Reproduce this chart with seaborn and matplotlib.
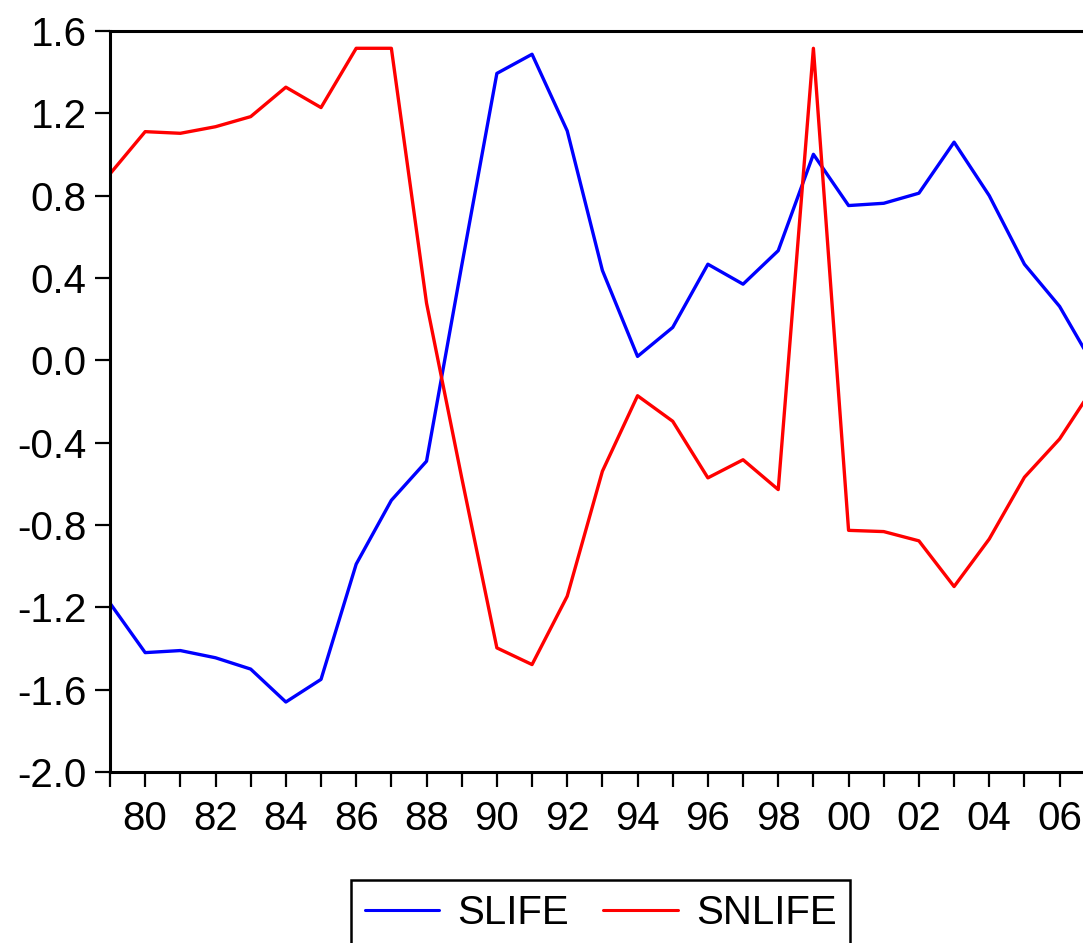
import matplotlib
matplotlib.use("Agg")
import matplotlib.pyplot as plt
import seaborn as sns
import pandas as pd
from matplotlib.ticker import MultipleLocator, FuncFormatter, FormatStrFormatter

years = list(range(1979, 2008))
slife = [-1.18, -1.42, -1.41, -1.445, -1.50, -1.66, -1.55, -0.99, -0.68, -0.49,
         0.46, 1.394, 1.487, 1.115, 0.437, 0.019, 0.160, 0.467, 0.370, 0.533,
         1.001, 0.752, 0.763, 0.812, 1.060, 0.800, 0.467, 0.262, -0.034]
snlife = [0.906, 1.111, 1.103, 1.135, 1.184, 1.327, 1.228, 1.516, 1.516, 0.278,
          -0.57, -1.397, -1.478, -1.146, -0.539, -0.172, -0.296, -0.571, -0.483, -0.628,
          1.516, -0.826, -0.832, -0.877, -1.099, -0.868, -0.568, -0.382, -0.121]
series_names = ["SLIFE", "SNLIFE"]
y_ticks = [-2.0, -1.6, -1.2, -0.8, -0.4, 0.0, 0.4, 0.8, 1.2, 1.6]

df = pd.DataFrame({
    "year": years * 2,
    "value": slife + snlife,
    "series": [series_names[0]] * len(years) + [series_names[1]] * len(years),
})

sns.set_style("white")
plt.rcParams["font.family"] = ["Liberation Sans", "DejaVu Sans"]
plt.rcParams["axes.unicode_minus"] = False
plt.rcParams["text.color"] = "black"

W, H = 1083, 943
fig = plt.figure(figsize=(W / 100, H / 100), dpi=100)
ax = fig.add_axes([110 / W, 1 - 772 / H, (W - 110) / W, (772 - 31) / H])

sns.lineplot(data=df, x="year", y="value", hue="series",
             palette={"SLIFE": "#0000ff", "SNLIFE": "#ff0000"},
             linewidth=2.4, ax=ax, legend=True)

ax.set_xlim(1979, 1979 + (W - 110) / 35.17)
ax.set_ylim(-2.0, 1.6)
ax.set_yticks(y_ticks)
ax.yaxis.set_major_formatter(FormatStrFormatter("%.1f"))
ax.xaxis.set_major_locator(MultipleLocator(1))
ax.xaxis.set_major_formatter(FuncFormatter(lambda v, p: f"{int(round(v)) % 100:02d}" if int(round(v)) % 2 == 0 else ""))
ax.set_xlabel("")
ax.set_ylabel("")

for s in ["left", "bottom", "top"]:
    ax.spines[s].set_visible(True)
    ax.spines[s].set_color("black")
    ax.spines[s].set_linewidth(2.2)
ax.spines["right"].set_visible(False)

ax.tick_params(axis="both", which="major", direction="out", length=11, width=1.6,
               color="black", labelsize=29, labelcolor="black", pad=6,
               bottom=True, left=True, top=False, right=False)
ax.tick_params(axis="x", pad=9)

handles, labels = ax.get_legend_handles_labels()
ax.get_legend().remove()
leg = fig.legend(handles, labels, loc="upper center",
                 bbox_to_anchor=(600.5 / W, 1 - 880 / H), ncol=2,
                 fontsize=29, frameon=True, fancybox=False, framealpha=1,
                 handlelength=1.85, handletextpad=0.45, columnspacing=0.85,
                 borderpad=0.35, borderaxespad=0)
leg.get_frame().set_edgecolor("black")
leg.get_frame().set_linewidth(1.8)
for t in leg.get_texts():
    t.set_color("black")
for line in leg.get_lines():
    line.set_linewidth(2.2)

fig.savefig("out.png", dpi=100)
